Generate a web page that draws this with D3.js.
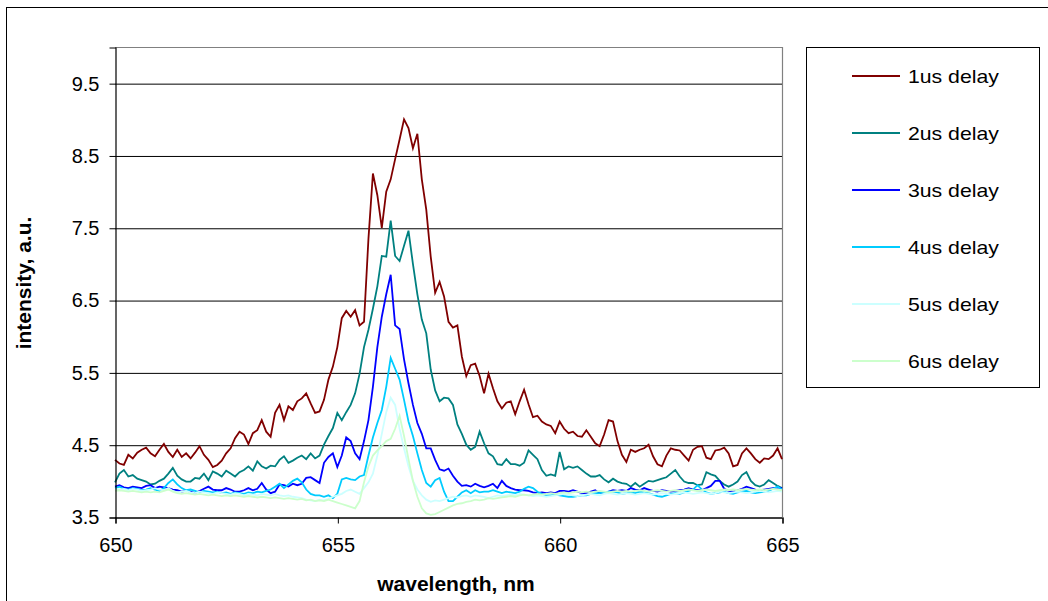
<!DOCTYPE html>
<html>
<head>
<meta charset="utf-8">
<script src="https://cdn.jsdelivr.net/npm/d3@7"></script>
<style>
  body { margin: 0; background: #fff; }
  svg { display: block; font-family: "Liberation Sans", Arial, sans-serif; }
</style>
</head>
<body>
<svg id="chart" width="1048" height="601"></svg>
<script>
// Spectra sampled every 0.1 nm from 650 nm to 665 nm
const wavelengthStart = 650;
const wavelengthStep = 0.1;

const delay1us = [
  4.29,4.24,4.22,4.36,4.31,4.39,4.43,4.46,4.38,4.34,
  4.43,4.51,4.40,4.33,4.43,4.33,4.38,4.31,4.39,4.48,
  4.36,4.29,4.19,4.22,4.28,4.38,4.45,4.59,4.68,4.64,
  4.51,4.66,4.70,4.84,4.68,4.61,4.94,5.05,4.84,5.03,
  4.98,5.10,5.14,5.21,5.07,4.94,4.96,5.12,5.40,5.58,
  5.85,6.25,6.35,6.27,6.36,6.15,6.20,7.35,8.25,7.95,
  7.50,8.00,8.17,8.45,8.72,9.00,8.88,8.60,8.80,8.17,
  7.75,7.10,6.60,6.75,6.55,6.20,6.12,6.15,5.72,5.45,
  5.60,5.62,5.45,5.21,5.48,5.28,5.10,5.00,5.08,5.10,
  4.92,5.10,5.26,5.06,4.88,4.90,4.82,4.78,4.76,4.66,
  4.82,4.72,4.66,4.68,4.62,4.61,4.70,4.61,4.52,4.48,
  4.64,4.84,4.82,4.55,4.36,4.26,4.43,4.40,4.43,4.45,
  4.50,4.34,4.23,4.20,4.35,4.45,4.43,4.42,4.35,4.28,
  4.43,4.47,4.48,4.32,4.30,4.42,4.43,4.46,4.38,4.20,
  4.22,4.38,4.45,4.38,4.30,4.25,4.31,4.30,4.35,4.45,
  4.30
];

const delay2us = [
  3.98,4.10,4.15,4.06,4.08,4.03,4.01,3.99,3.95,3.96,
  4.00,4.03,4.10,4.18,4.07,4.02,3.99,3.99,4.04,4.03,
  4.10,4.01,4.13,4.10,4.06,4.14,4.10,4.06,4.12,4.15,
  4.20,4.14,4.27,4.20,4.17,4.21,4.20,4.29,4.34,4.25,
  4.28,4.32,4.35,4.30,4.38,4.31,4.35,4.50,4.62,4.73,
  4.94,4.84,4.95,5.05,5.21,5.48,5.85,6.09,6.38,6.69,
  7.11,7.10,7.60,7.11,7.04,7.25,7.46,7.00,6.58,6.23,
  6.04,5.54,5.25,5.10,5.15,5.14,5.05,4.78,4.65,4.50,
  4.43,4.47,4.68,4.52,4.38,4.34,4.23,4.22,4.30,4.23,
  4.23,4.21,4.25,4.42,4.36,4.30,4.15,4.07,4.09,4.07,
  4.40,4.16,4.20,4.18,4.20,4.15,4.10,4.06,4.06,4.08,
  4.02,3.98,4.03,3.99,3.97,3.96,3.92,3.97,3.92,3.96,
  4.00,3.99,4.01,4.03,4.05,4.10,4.15,4.06,3.99,3.97,
  3.97,3.94,3.95,4.12,4.09,4.07,4.00,3.95,3.92,3.95,
  3.99,4.08,4.12,4.00,3.94,3.92,3.95,4.01,3.97,3.93,
  3.90
];

const delay3us = [
  3.92,3.94,3.91,3.90,3.92,3.91,3.90,3.93,3.94,3.90,
  3.92,3.91,3.90,3.88,3.87,3.85,3.86,3.85,3.83,3.86,
  3.89,3.92,3.88,3.87,3.87,3.90,3.88,3.85,3.85,3.87,
  3.90,3.87,3.89,3.97,3.88,3.83,3.85,3.95,3.94,3.92,
  3.96,3.94,3.96,4.04,4.05,4.01,3.97,4.25,4.33,4.38,
  4.19,4.35,4.60,4.55,4.38,4.30,4.55,4.84,5.30,5.85,
  6.27,6.58,6.85,6.15,6.10,5.68,5.35,5.05,4.80,4.65,
  4.45,4.45,4.29,4.16,4.14,4.17,4.07,3.99,3.93,3.94,
  3.92,3.96,3.93,3.91,3.93,3.96,3.90,4.00,3.93,3.90,
  3.88,3.87,3.87,3.86,3.84,3.83,3.84,3.83,3.84,3.83,
  3.86,3.86,3.85,3.87,3.85,3.83,3.83,3.85,3.87,3.83,
  3.84,3.85,3.87,3.86,3.87,3.86,3.90,3.88,3.87,3.90,
  3.88,3.86,3.85,3.87,3.86,3.85,3.86,3.87,3.88,3.90,
  3.88,3.87,3.87,3.90,3.93,4.00,4.00,3.89,3.86,3.85,
  3.87,3.89,3.92,3.90,3.88,3.87,3.88,3.89,3.90,3.91,
  3.90
];

const delay4us = [
  3.90,3.92,3.89,3.88,3.90,3.89,3.87,3.88,3.90,3.88,
  3.86,3.90,3.97,4.02,3.95,3.90,3.87,3.88,3.86,3.84,
  3.86,3.85,3.84,3.85,3.83,3.84,3.82,3.84,3.83,3.82,
  3.84,3.83,3.85,3.84,3.86,3.88,3.92,3.96,3.90,3.95,
  4.00,4.03,3.98,3.88,3.82,3.80,3.80,3.78,3.80,3.76,
  3.82,4.02,4.04,4.02,4.01,4.06,4.08,4.35,4.60,4.80,
  4.98,5.30,5.70,5.55,5.40,5.12,4.82,4.62,4.38,4.15,
  3.97,3.92,4.01,4.04,3.85,3.72,3.72,3.78,3.84,3.87,
  3.83,3.87,3.84,3.85,3.85,3.87,3.85,3.83,3.85,3.84,
  3.83,3.85,3.89,3.92,3.90,3.85,3.82,3.80,3.80,3.81,
  3.80,3.79,3.78,3.78,3.79,3.80,3.80,3.82,3.83,3.83,
  3.84,3.85,3.85,3.84,3.82,3.83,3.84,3.83,3.85,3.84,
  3.83,3.81,3.79,3.78,3.80,3.82,3.83,3.82,3.84,3.86,
  3.88,3.94,3.88,3.84,3.82,3.83,3.84,3.85,3.83,3.82,
  3.84,3.85,3.86,3.84,3.83,3.84,3.85,3.86,3.89,3.92,
  3.88
];

const delay5us = [
  3.88,3.88,3.89,3.87,3.89,3.88,3.86,3.87,3.88,3.90,
  3.88,3.87,3.90,3.86,3.84,3.85,3.86,3.84,3.83,3.85,
  3.84,3.83,3.82,3.84,3.83,3.82,3.81,3.83,3.82,3.80,
  3.82,3.81,3.80,3.82,3.81,3.80,3.82,3.80,3.79,3.80,
  3.78,3.77,3.76,3.74,3.73,3.72,3.74,3.73,3.75,3.78,
  3.80,3.82,3.86,3.88,3.85,3.82,3.90,3.98,4.10,4.35,
  4.65,4.95,5.15,5.05,4.72,4.45,4.20,4.00,3.88,3.80,
  3.74,3.71,3.73,3.72,3.74,3.76,3.78,3.77,3.79,3.80,
  3.78,3.80,3.79,3.78,3.76,3.78,3.80,3.79,3.80,3.81,
  3.80,3.82,3.81,3.80,3.79,3.80,3.79,3.78,3.79,3.80,
  3.81,3.82,3.81,3.80,3.79,3.80,3.81,3.82,3.81,3.80,
  3.82,3.83,3.82,3.81,3.82,3.83,3.82,3.81,3.82,3.83,
  3.82,3.81,3.82,3.83,3.82,3.81,3.82,3.83,3.84,3.83,
  3.82,3.83,3.84,3.83,3.82,3.83,3.85,3.84,3.83,3.84,
  3.85,3.84,3.83,3.84,3.85,3.86,3.85,3.84,3.85,3.86,
  3.85
];

const delay6us = [
  3.86,3.87,3.86,3.85,3.86,3.85,3.84,3.85,3.84,3.85,
  3.84,3.86,3.88,3.85,3.83,3.82,3.83,3.82,3.81,3.82,
  3.81,3.80,3.81,3.80,3.79,3.80,3.79,3.80,3.79,3.78,
  3.79,3.78,3.77,3.78,3.77,3.76,3.77,3.76,3.75,3.76,
  3.75,3.74,3.75,3.73,3.74,3.72,3.73,3.72,3.74,3.72,
  3.70,3.68,3.66,3.64,3.62,3.72,3.98,4.20,4.35,4.42,
  4.48,4.55,4.58,4.72,4.90,4.62,4.30,4.00,3.78,3.62,
  3.55,3.53,3.54,3.57,3.60,3.63,3.66,3.68,3.69,3.71,
  3.72,3.74,3.73,3.74,3.76,3.75,3.76,3.77,3.78,3.79,
  3.78,3.80,3.81,3.80,3.81,3.82,3.81,3.82,3.83,3.82,
  3.83,3.84,3.83,3.84,3.85,3.84,3.85,3.84,3.85,3.86,
  3.85,3.84,3.85,3.86,3.85,3.86,3.85,3.86,3.87,3.86,
  3.85,3.86,3.87,3.86,3.85,3.86,3.87,3.86,3.87,3.88,
  3.87,3.86,3.87,3.88,3.87,3.86,3.87,3.88,3.87,3.88,
  3.87,3.88,3.89,3.88,3.87,3.88,3.87,3.88,3.89,3.88,
  3.87
];

const seriesNames = ["1us delay", "2us delay", "3us delay", "4us delay", "5us delay", "6us delay"];
const seriesValues = [delay1us, delay2us, delay3us, delay4us, delay5us, delay6us];
const yTickValues = [3.5, 4.5, 5.5, 6.5, 7.5, 8.5, 9.5];
const xTickValues = [650, 655, 660, 665];

// Line colours, one per delay
const seriesColors = ["#800000", "#008080", "#0000FF", "#00CCFF", "#CCFFFF", "#CCFFCC"];

const svg = d3.select("#chart");

const plot = { left: 115, right: 782, top: 47, bottom: 517 };
const x = d3.scaleLinear().domain([650, 665]).range([plot.left, plot.right]);
const y = d3.scaleLinear().domain([3.5, 10]).range([plot.bottom, plot.top]);

// Outer chart frame (runs past the right and bottom edges of the page)
svg.append("rect")
  .attr("x", 6.5).attr("y", 7.5)
  .attr("width", 1060).attr("height", 640)
  .attr("fill", "none").attr("stroke", "#000").attr("stroke-width", 1);

// Plot-area border on the top and right sides
svg.append("path")
  .attr("d", `M${plot.left},${plot.top + 0.5}H${plot.right + 0.5}V${plot.bottom}`)
  .attr("fill", "none").attr("stroke", "#808080").attr("stroke-width", 1.2);

// Horizontal gridlines
svg.append("g")
  .attr("transform", `translate(${plot.left},0.5)`)
  .call(d3.axisLeft(y).tickValues(yTickValues).tickSize(-(plot.right - plot.left)).tickFormat(""))
  .call(g => g.select(".domain").remove())
  .call(g => g.selectAll("line").attr("stroke", "#000").attr("stroke-width", 1));

// Spectra
const wavelengths = seriesValues[0].map((_, i) => +(wavelengthStart + i * wavelengthStep).toFixed(2));
const line = d3.line()
  .x((d, i) => x(wavelengths[i]))
  .y(d => y(d));

svg.append("g")
  .selectAll("path")
  .data(seriesValues)
  .join("path")
  .attr("d", line)
  .attr("fill", "none")
  .attr("stroke", (d, i) => seriesColors[i])
  .attr("stroke-width", 1.8)
  .attr("stroke-linejoin", "miter");

// Y axis
const yAxis = svg.append("g")
  .attr("transform", `translate(${plot.left + 0.5},0.5)`)
  .call(d3.axisLeft(y).tickValues(yTickValues).tickSize(6).tickPadding(10).tickFormat(d3.format(".1f")));
yAxis.select(".domain").attr("stroke", "#000").attr("stroke-width", 1.2);
yAxis.selectAll("line").attr("stroke", "#000");
yAxis.selectAll("text")
  .attr("fill", "#000")
  .style("font-size", "20px")
  .style("font-family", "'Liberation Sans', Arial, sans-serif");

// X axis
const xAxis = svg.append("g")
  .attr("transform", `translate(0.5,${plot.bottom + 0.5})`)
  .call(d3.axisBottom(x).tickValues(xTickValues).tickSize(6).tickPadding(14).tickFormat(d3.format("d")));
xAxis.select(".domain").attr("stroke", "#000").attr("stroke-width", 1.2);
xAxis.selectAll("line").attr("stroke", "#000");
xAxis.selectAll("text")
  .attr("fill", "#000")
  .style("font-size", "20px")
  .style("font-family", "'Liberation Sans', Arial, sans-serif");

// Axis titles
svg.append("text")
  .attr("x", 456).attr("y", 591)
  .attr("text-anchor", "middle")
  .style("font-size", "21px").style("font-weight", "bold")
  .text("wavelength, nm");

svg.append("text")
  .attr("transform", "translate(31,283) rotate(-90)")
  .attr("text-anchor", "middle")
  .style("font-size", "21px").style("font-weight", "bold")
  .text("intensity, a.u.");

// Legend
const legend = svg.append("g");
legend.append("rect")
  .attr("x", 806.5).attr("y", 47.5)
  .attr("width", 233).attr("height", 340)
  .attr("fill", "#fff").attr("stroke", "#000").attr("stroke-width", 1);

const legendRowY = d3.scaleLinear().domain([0, 5]).range([76, 361]);
const rows = legend.selectAll("g.row")
  .data(seriesNames)
  .join("g")
  .attr("class", "row")
  .attr("transform", (d, i) => `translate(0,${legendRowY(i)})`);

rows.append("line")
  .attr("x1", 852).attr("x2", 900)
  .attr("y1", 0).attr("y2", 0)
  .attr("stroke", (d, i) => seriesColors[i])
  .attr("stroke-width", 2);

rows.append("text")
  .attr("transform", "translate(908,6.5) scale(1.18,1)")
  .style("font-size", "18px")
  .attr("fill", "#000")
  .text(d => d);
</script>
</body>
</html>
